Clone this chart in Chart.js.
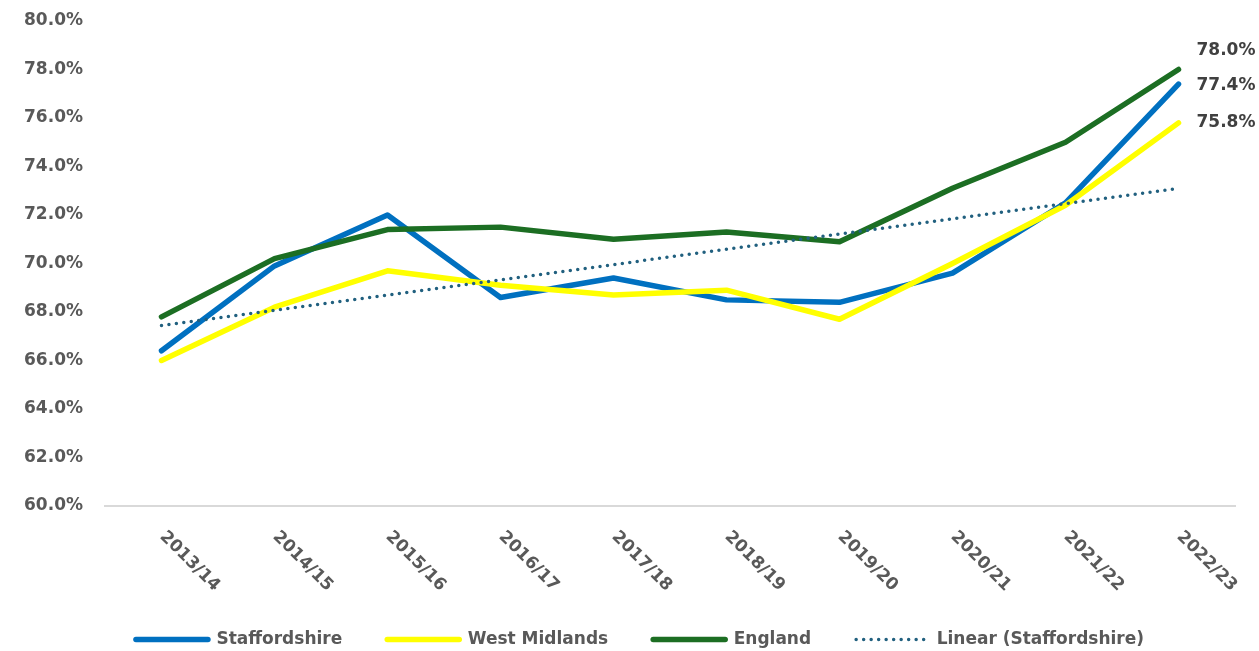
<!DOCTYPE html>
<html>
<head>
<meta charset="utf-8">
<script src="https://cdn.jsdelivr.net/npm/chart.js@4.4.1/dist/chart.umd.min.js"></script>
<style>
  html, body { margin: 0; padding: 0; background: #fff; }
  #wrap { width: 1259px; height: 651px; }
</style>
</head>
<body>
<div id="wrap"><canvas id="chart"></canvas></div>
<script>
// Data
const years = ['2013/14', '2014/15', '2015/16', '2016/17', '2017/18', '2018/19', '2019/20', '2020/21', '2021/22', '2022/23'];
const staffordshire = [66.4, 69.9, 72.0, 68.6, 69.4, 68.5, 68.4, 69.6, 72.5, 77.4];
const westMidlands = [66.0, 68.2, 69.7, 69.1, 68.7, 68.9, 67.7, 70.0, 72.4, 75.8];
const england = [67.8, 70.2, 71.4, 71.5, 71.0, 71.3, 70.9, 73.1, 75.0, 78.0];
const yMin = 60, yMax = 80, yStep = 2;

const FONT = '"DejaVu Sans", sans-serif';
const colors = {
    blue: '#0070c0',
    yellow: '#ffff00',
    green: '#1c6e23',
    trend: '#21607f',
    text: '#595959',
    label: '#404040',
    axis: '#d9d9d9'
};

// Linear (Staffordshire): least squares fit, same as the spreadsheet trendline
function linearTrend(values) {
    const n = values.length;
    const mx = (n - 1) / 2;
    const my = values.reduce((a, b) => a + b, 0) / n;
    let sxy = 0, sxx = 0;
    values.forEach((v, i) => { sxy += (i - mx) * (v - my); sxx += (i - mx) * (i - mx); });
    const slope = sxy / sxx;
    return values.map((_, i) => my + slope * (i - mx));
}
const staffsTrend = linearTrend(staffordshire);

// legend: a bit lower, and centred a little right of the canvas middle
const legendNudge = {
    id: 'legendNudge',
    beforeInit(chart) {
        const legend = chart.legend;
        if (!legend) return;
        const fit = legend.fit;
        legend.fit = function () { fit.call(this); this.height -= 7; };
    },
    afterLayout(chart) {
        if (chart.legend) chart.legend.left += 45;
    }
};

// x labels turned 45 degrees clockwise, starting at the tick
const slantedLabels = {
    id: 'slantedLabels',
    afterDraw(chart) {
        const xs = chart.scales.x;
        const ctx = chart.ctx;
        ctx.save();
        ctx.font = 'bold 17px ' + FONT;
        ctx.fillStyle = colors.text;
        ctx.textAlign = 'left';
        ctx.textBaseline = 'middle';
        years.forEach((lab, i) => {
            ctx.save();
            ctx.translate(xs.getPixelForValue(i) + 1, xs.top + 28);
            ctx.rotate(Math.PI / 4);
            ctx.fillText(lab, 0, 0);
            ctx.restore();
        });
        ctx.restore();
    }
};

// values at the end of the three series
const endLabelShift = { 0: 2, 1: 0, 2: -19 };
const endLabels = {
    id: 'endLabels',
    afterDatasetsDraw(chart) {
        const ctx = chart.ctx;
        ctx.save();
        ctx.font = 'bold 17px ' + FONT;
        ctx.fillStyle = colors.label;
        ctx.textAlign = 'left';
        ctx.textBaseline = 'middle';
        Object.keys(endLabelShift).forEach(k => {
            const idx = Number(k);
            const meta = chart.getDatasetMeta(idx);
            const data = chart.data.datasets[idx].data;
            const pt = meta.data[data.length - 1];
            ctx.fillText(data[data.length - 1].toFixed(1) + '%', pt.x + 18, pt.y + endLabelShift[k]);
        });
        ctx.restore();
    }
};

const lineStyle = {
    borderWidth: 5.5,
    pointRadius: 0,
    tension: 0,
    borderCapStyle: 'round',
    borderJoinStyle: 'round',
    fill: false
};

new Chart(document.getElementById('chart'), {
    type: 'line',
    data: {
        labels: years,
        datasets: [
            { label: 'Staffordshire', data: staffordshire, borderColor: colors.blue, backgroundColor: colors.blue, order: 3, ...lineStyle },
            { label: 'West Midlands', data: westMidlands, borderColor: colors.yellow, backgroundColor: colors.yellow, order: 2, ...lineStyle },
            { label: 'England', data: england, borderColor: colors.green, backgroundColor: colors.green, order: 1, ...lineStyle },
            {
                label: 'Linear (Staffordshire)',
                data: staffsTrend,
                borderColor: colors.trend,
                backgroundColor: colors.trend,
                borderWidth: 3.5,
                borderDash: [0, 7.5],
                borderCapStyle: 'round',
                pointRadius: 0,
                order: 0,
                fill: false
            }
        ]
    },
    options: {
        responsive: true,
        maintainAspectRatio: false,
        animation: false,
        events: [],
        layout: { padding: { top: 21, right: 24, bottom: 0, left: 0 } },
        plugins: {
            tooltip: { enabled: false },
            legend: {
                position: 'bottom',
                labels: {
                    usePointStyle: true,
                    pointStyle: 'line',
                    pointStyleWidth: 72,
                    padding: 45,
                    color: colors.text,
                    font: { family: FONT, size: 17, weight: 'bold' },
                    sort: (a, b) => a.datasetIndex - b.datasetIndex,
                    generateLabels(chart) {
                        const items = Chart.defaults.plugins.legend.labels.generateLabels(chart);
                        items.forEach(it => {
                            const ds = chart.data.datasets[it.datasetIndex];
                            it.strokeStyle = ds.borderColor;
                            it.lineWidth = ds.borderWidth;
                            it.lineDash = ds.borderDash || [];
                            it.lineCap = 'round';
                        });
                        return items;
                    }
                }
            }
        },
        scales: {
            x: {
                offset: true,
                grid: { display: false, drawTicks: false },
                border: { display: true, color: colors.axis, width: 2 },
                ticks: { display: false },
                afterFit(scale) { scale.height = 80; }
            },
            y: {
                min: yMin,
                max: yMax,
                grid: { display: false, drawTicks: false },
                border: { display: false },
                ticks: {
                    stepSize: yStep,
                    padding: 22,
                    color: colors.text,
                    font: { family: FONT, size: 17, weight: 'bold' },
                    callback: v => v.toFixed(1) + '%'
                },
                afterFit(scale) {
                    scale.width = 105;
                    scale.paddingTop = 0;
                    scale.paddingBottom = 0;
                }
            }
        }
    },
    plugins: [legendNudge, slantedLabels, endLabels]
});
</script>
</body>
</html>
